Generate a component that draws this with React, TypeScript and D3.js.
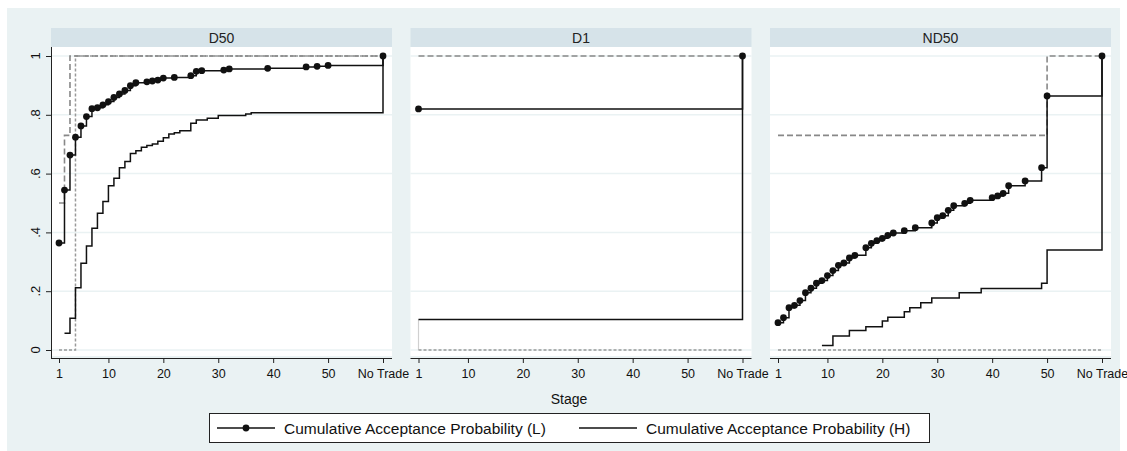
import React, { useRef, useEffect } from 'react';
import * as d3 from 'd3';

const panelNames = ['D50', 'D1', 'ND50'];
const stageTicks = [1, 10, 20, 30, 40, 50, 60];
const stageLabels = ['1', '10', '20', '30', '40', '50', 'No Trade'];
const probTicks = [0, 0.2, 0.4, 0.6, 0.8, 1];
const probLabels = ['0', '.2', '.4', '.6', '.8', '1'];

// D50
const d50LStages = [1, 2, 3, 4, 5, 6, 7, 8, 9, 10, 11, 12, 13, 14, 15, 17, 18, 19, 20, 22, 25, 26, 27, 31, 32, 39, 46, 48, 50, 60];
const d50LValues = [0.364, 0.544, 0.663, 0.724, 0.762, 0.794, 0.821, 0.824, 0.834, 0.845, 0.859, 0.871, 0.883, 0.899, 0.909, 0.912, 0.915, 0.918, 0.925, 0.927, 0.933, 0.948, 0.95, 0.952, 0.956, 0.958, 0.963, 0.965, 0.968, 1];
const d50HStages = [2, 3, 4, 5, 6, 7, 8, 9, 10, 11, 12, 13, 14, 15, 16, 17, 18, 19, 20, 21, 22, 23, 25, 26, 28, 30, 35, 36, 60];
const d50HValues = [0.057, 0.108, 0.212, 0.295, 0.354, 0.414, 0.465, 0.505, 0.559, 0.584, 0.62, 0.641, 0.668, 0.678, 0.69, 0.696, 0.701, 0.71, 0.722, 0.735, 0.739, 0.746, 0.771, 0.782, 0.788, 0.798, 0.803, 0.807, 1];
const d50RefLStages = [1, 2, 3, 60];
const d50RefLValues = [0.5, 0.73, 1, 1];
const d50RefHStages = [1, 4, 60];
const d50RefHValues = [0, 1, 1];

// D1
const d1LStages = [1, 60];
const d1LValues = [0.82, 1];
const d1HStages = [1, 60];
const d1HValues = [0.104, 1];
const d1RefLStages = [1, 60];
const d1RefLValues = [1, 1];
const d1RefHStages = [1, 60];
const d1RefHValues = [0, 0];

// ND50
const nd50LStages = [1, 2, 3, 4, 5, 6, 7, 8, 9, 10, 11, 12, 13, 14, 15, 17, 18, 19, 20, 21, 22, 24, 26, 29, 30, 31, 32, 33, 35, 36, 40, 41, 42, 43, 46, 49, 50, 60];
const nd50LValues = [0.093, 0.11, 0.144, 0.152, 0.168, 0.195, 0.21, 0.227, 0.236, 0.253, 0.27, 0.288, 0.296, 0.313, 0.322, 0.348, 0.363, 0.372, 0.38, 0.39, 0.398, 0.406, 0.416, 0.432, 0.45, 0.457, 0.475, 0.491, 0.499, 0.509, 0.518, 0.524, 0.533, 0.559, 0.575, 0.62, 0.864, 1];
const nd50HStages = [9, 11, 14, 17, 20, 21, 24, 25, 27, 29, 34, 38, 49, 50, 60];
const nd50HValues = [0.015, 0.048, 0.066, 0.079, 0.099, 0.111, 0.13, 0.144, 0.161, 0.177, 0.195, 0.209, 0.227, 0.34, 1];
const nd50RefLStages = [1, 50, 60];
const nd50RefLValues = [0.73, 1, 1];
const nd50RefHStages = [1, 60];
const nd50RefHValues = [0, 0];

const legendLabels = ['Cumulative Acceptance Probability (L)', 'Cumulative Acceptance Probability (H)'];

const zip = (s: number[], v: number[]) => s.map((x, i) => ({ stage: x, value: v[i] }));

const panels = [
    { name: panelNames[0], L: zip(d50LStages, d50LValues), H: zip(d50HStages, d50HValues), refL: zip(d50RefLStages, d50RefLValues), refH: zip(d50RefHStages, d50RefHValues), faint: [] as { stage: number, value: number }[] },
    { name: panelNames[1], L: zip(d1LStages, d1LValues), H: zip(d1HStages, d1HValues), refL: zip(d1RefLStages, d1RefLValues), refH: zip(d1RefHStages, d1RefHValues), faint: zip([1, 1], [0, d1HValues[0]]) },
    { name: panelNames[2], L: zip(nd50LStages, nd50LValues), H: zip(nd50HStages, nd50HValues), refL: zip(nd50RefLStages, nd50RefLValues), refH: zip(nd50RefHStages, nd50RefHValues), faint: [] as { stage: number, value: number }[] },
];

const FONT = 'Liberation Sans, Arial, Helvetica, sans-serif';
const BG = '#eaf2f3';
const STRIP = '#d6e3e9';

export default function App() {
    const svgRef = useRef<SVGSVGElement>(null);
    const width = 1127;
    const height = 451;

    useEffect(() => {
        const svg = d3.select(svgRef.current);
        svg.selectAll('*').remove();

        svg.append('rect')
            .attr('x', 7).attr('y', 8)
            .attr('width', 1113).attr('height', 443)
            .attr('fill', BG);

        const panelLefts = [51, 410.5, 770];
        const panelW = 341;
        const plotTop = 47;
        const plotBottom = 356;
        const axisY = 358;

        const y = d3.scaleLinear().domain([0, 1]).range([350, 56]);

        const line = d3.line<{ stage: number, value: number }>()
            .curve(d3.curveStepAfter);

        panels.forEach((p, i) => {
            const left = panelLefts[i];
            const x = d3.scaleLinear().domain([1, 60]).range([left + 8, left + 332]);
            line.x(d => x(d.stage)).y(d => y(d.value));

            const g = svg.append('g');

            // strip
            g.append('rect')
                .attr('x', left).attr('y', 28)
                .attr('width', panelW).attr('height', 19)
                .attr('fill', STRIP);
            g.append('text')
                .attr('x', left + panelW / 2).attr('y', 42.5)
                .attr('text-anchor', 'middle')
                .attr('font-family', FONT).attr('font-size', 14)
                .attr('fill', '#222')
                .text(p.name);

            // plot region
            g.append('rect')
                .attr('x', left).attr('y', plotTop)
                .attr('width', panelW).attr('height', plotBottom - plotTop)
                .attr('fill', 'white');

            // gridlines
            g.append('g')
                .selectAll('line')
                .data(probTicks)
                .join('line')
                .attr('x1', left).attr('x2', left + panelW)
                .attr('y1', d => y(d)).attr('y2', d => y(d))
                .attr('stroke', BG).attr('stroke-width', 1.5);

            // x axis
            g.append('g')
                .attr('transform', `translate(0,${axisY})`)
                .call(d3.axisBottom(x)
                    .tickValues(stageTicks)
                    .tickFormat((d, k) => stageLabels[k])
                    .tickSize(5)
                    .tickSizeOuter(0))
                .call(a => a.select('.domain')
                    .attr('d', `M${left},0.5H${left + panelW}`)
                    .attr('stroke', '#222'))
                .call(a => a.selectAll('.tick line').attr('stroke', '#222'))
                .call(a => a.selectAll('.tick text')
                    .attr('font-family', FONT)
                    .attr('font-size', 12.5)
                    .attr('fill', '#111')
                    .attr('dy', '0.95em'));

            // y axis on first panel
            if (i === 0) {
                g.append('g')
                    .attr('transform', `translate(${left},0)`)
                    .call(d3.axisLeft(y).tickValues(probTicks).tickSize(5).tickFormat(() => ''))
                    .call(a => a.select('.domain')
                        .attr('d', `M0.5,${plotTop}V${axisY}`)
                        .attr('stroke', '#222'))
                    .call(a => a.selectAll('.tick line').attr('stroke', '#222'));
                g.append('g')
                    .selectAll('text')
                    .data(probTicks)
                    .join('text')
                    .attr('transform', (d) => `translate(40,${y(d)}) rotate(-90)`)
                    .attr('text-anchor', 'middle')
                    .attr('font-family', FONT)
                    .attr('font-size', 13)
                    .attr('fill', '#111')
                    .text((d, k) => probLabels[k]);
            }

            // reference lines
            if (p.faint.length) {
                g.append('path')
                    .datum(p.faint)
                    .attr('fill', 'none')
                    .attr('stroke', '#d0d0d0')
                    .attr('stroke-width', 1.2)
                    .attr('d', line);
            }
            g.append('path')
                .datum(p.refH)
                .attr('fill', 'none')
                .attr('stroke', '#999')
                .attr('stroke-width', 1.5)
                .attr('stroke-dasharray', '3,2')
                .attr('d', line);
            g.append('path')
                .datum(p.refL)
                .attr('fill', 'none')
                .attr('stroke', '#888')
                .attr('stroke-width', 1.6)
                .attr('stroke-dasharray', '6,3')
                .attr('d', line);

            // H series
            g.append('path')
                .datum(p.H)
                .attr('fill', 'none')
                .attr('stroke', '#111')
                .attr('stroke-width', 1.5)
                .attr('d', line);

            // L series
            g.append('path')
                .datum(p.L)
                .attr('fill', 'none')
                .attr('stroke', '#111')
                .attr('stroke-width', 1.5)
                .attr('d', line);
            g.append('g')
                .selectAll('circle')
                .data(p.L)
                .join('circle')
                .attr('cx', d => x(d.stage))
                .attr('cy', d => y(d.value))
                .attr('r', 3.4)
                .attr('fill', '#111');
        });

        // x axis title
        svg.append('text')
            .attr('x', 569).attr('y', 404)
            .attr('text-anchor', 'middle')
            .attr('font-family', FONT).attr('font-size', 14)
            .attr('fill', '#111')
            .text('Stage');

        // legend
        const lg = svg.append('g');
        lg.append('rect')
            .attr('x', 209.5).attr('y', 413.5)
            .attr('width', 720).attr('height', 29)
            .attr('fill', 'white')
            .attr('stroke', '#222').attr('stroke-width', 1);
        const legendX = [217, 579];
        legendLabels.forEach((label, k) => {
            const lx = legendX[k];
            lg.append('line')
                .attr('x1', lx).attr('x2', lx + 58)
                .attr('y1', 428).attr('y2', 428)
                .attr('stroke', '#111').attr('stroke-width', 1.5);
            if (k === 0) {
                lg.append('circle')
                    .attr('cx', lx + 29).attr('cy', 428)
                    .attr('r', 3.4).attr('fill', '#111');
            }
            lg.append('text')
                .attr('x', lx + 67).attr('y', 433.5)
                .attr('font-family', FONT).attr('font-size', 15.5)
                .attr('fill', '#111')
                .text(label);
        });
    }, []);

    return (
        <svg
            ref={svgRef}
            width={width}
            height={height}
            viewBox={`0 0 ${width} ${height}`}
            style={{ position: 'absolute', left: 0, top: 0, display: 'block' }}
        />
    );
}
